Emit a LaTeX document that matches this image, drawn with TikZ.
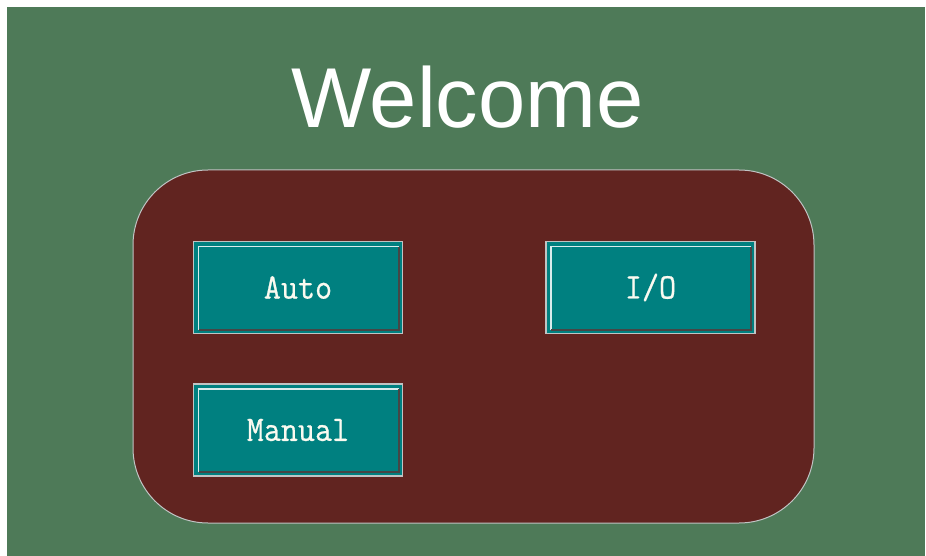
\documentclass[tikz,border=0pt]{standalone}
\usepackage{fontspec}
\usepackage{tikz}
\usetikzlibrary{positioning}
\newfontfamily\titlefont{Liberation Sans}
\newfontfamily\btnfont[FakeStretch=0.92, FakeBold=0.6]{Latin Modern Mono}
\definecolor{bggreen}{RGB}{78,122,88}
\definecolor{panelred}{RGB}{97,36,32}
\definecolor{btnteal}{RGB}{0,128,128}
\definecolor{btnedge}{RGB}{192,196,196}
\definecolor{btnshade}{RGB}{70,70,70}
\definecolor{btntext}{RGB}{250,250,240}

\begin{document}
\begin{tikzpicture}[
    x=1pt, y=-1pt,
    % 按鈕之間的距離
    node distance=49pt and 142pt,
    % --- 定義節點樣式 ---
    % 標題樣式
    title/.style={
        text=white,
        inner sep=0pt,
        font=\titlefont\fontsize{85}{88}\selectfont
    },
    % 圓角面板樣式
    panel/.style={
        rectangle,
        rounded corners=75pt,
        draw=btnedge,
        line width=1pt,
        fill=panelred,
        minimum width=681pt,
        minimum height=353pt
    },
    % 按鈕樣式
    btn/.style={
        rectangle,
        draw=btnedge,
        line width=1.5pt,
        fill=btnteal,
        text=btntext,
        minimum width=209pt,
        minimum height=92pt,
        font=\btnfont\fontsize{36}{36}\selectfont,
        path picture={
            % 左上亮邊
            \draw[white!85!btnteal, line width=1.5pt]
                ([xshift=5pt,yshift=4pt]path picture bounding box.south west)
                |- ([xshift=-4pt,yshift=-5pt]path picture bounding box.north east);
            % 右下暗邊
            \draw[btnshade, line width=2pt]
                ([xshift=5pt,yshift=4pt]path picture bounding box.south west)
                -| ([xshift=-4pt,yshift=-5pt]path picture bounding box.north east);
        }
    }
]

% --- 背景 ---
\useasboundingbox (0,0) rectangle (926,556);
\fill[bggreen] (7,7) rectangle (925,556);

% --- 標題 ---
\node[title, anchor=base] (welcome) at (467.5,128) {Welcome};

% --- 面板 ---
\node[panel] (board) at (473.5,346.5) {};

% --- 按鈕 ---
\node[btn] (auto) at (298,287.5) {Auto};
\node[btn, right=of auto] (io) {I/O};
\node[btn, below=of auto] (manual) {Manual};

\end{tikzpicture}
\end{document}
